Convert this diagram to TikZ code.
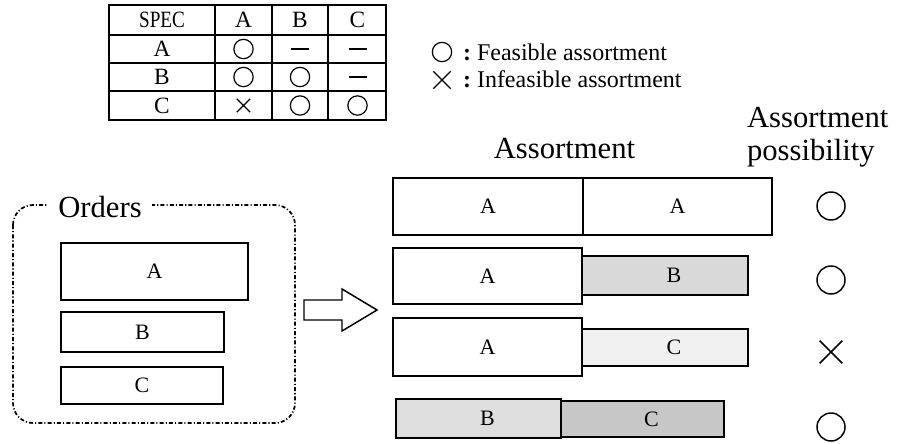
\documentclass[tikz,border=0pt]{standalone}
\usepackage{fontspec}
\usepackage{graphicx}
\setmainfont{Liberation Serif}
\usetikzlibrary{shapes.misc}

\begin{document}
\begin{tikzpicture}[x=0.75pt,y=-0.75pt,
  every node/.style={inner sep=0pt, outer sep=0pt},
  sz/.style n args={2}{minimum width={#1*0.75pt}, minimum height={#2*0.75pt}},
  bar/.style={draw, line width=1.4pt, font=\fontsize{16.5}{18}\selectfont},
  barlabel/.style={font=\fontsize{16.5}{18}\selectfont, xshift=6.75pt},
  headfont/.style={font=\fontsize{23}{26}\selectfont},
  tabfont/.style={font=\fontsize{17.5}{19}\selectfont},
  legfont/.style={font=\fontsize{18}{20}\selectfont},
  okbig/.style={circle, draw, line width=1.1pt, minimum size=21pt},
  ngbig/.style={cross out, draw, line width=1.2pt, minimum size=17pt},
  oksmall/.style={circle, draw, line width=0.9pt, minimum size=14.5pt},
  ngsmall/.style={cross out, draw, line width=0.9pt, minimum size=10pt},
  nglegend/.style={cross out, draw, line width=1pt, minimum size=13pt},
  nonemark/.style={fill=black, minimum width=13.5pt, minimum height=0.8pt},
  groupline/.style={line width=1.3pt, rounded corners=15pt,
    dash pattern=on 3pt off 1.6pt on 0.8pt off 1.6pt}
]
\useasboundingbox (0,0) rectangle (898,443);

% ---------- compatibility table ----------
\draw[line width=2pt] (109,5) rectangle (386,120);
\draw[line width=1.6pt] (109,35) -- (386,35);
\draw[line width=1pt] (109,63) -- (386,63) (109,91) -- (386,91);
\draw[line width=1pt] (215,5) -- (215,120) (272,5) -- (272,120) (328,5) -- (328,120);

\node[tabfont] (h0) at (162,20) {\scalebox{0.82}[1]{SPEC}};
\node[tabfont] (hA) at (243.5,20) {A};
\node[tabfont] (hB) at (300,20) {B};
\node[tabfont] (hC) at (357.5,20) {C};
\node[tabfont] (rA) at (162,49) {A};
\node[tabfont] (rB) at (162,77) {B};
\node[tabfont] (rC) at (162,105.5) {C};

\node[oksmall] (tAA) at (243.5,49) {};
\node[nonemark] (tAB) at (300,49) {};
\node[nonemark] (tAC) at (357.5,49) {};
\node[oksmall] (tBA) at (243.5,77) {};
\node[oksmall] (tBB) at (300,77) {};
\node[nonemark] (tBC) at (357.5,77) {};
\node[ngsmall] (tCA) at (243.5,105.5) {};
\node[oksmall] (tCB) at (300,105.5) {};
\node[oksmall] (tCC) at (357.5,105.5) {};

% ---------- legend ----------
\node[oksmall] (lg1) at (442,52) {};
\node[nglegend] (lg2) at (442,80) {};
\node[legfont, anchor=base] (lc1) at (467,60) {\textbf{:}};
\node[legfont, anchor=base] (lc2) at (467,87) {\textbf{:}};
\node[legfont, anchor=base west] (lt1) at (477,60) {Feasible assortment};
\node[legfont, anchor=base west] (lt2) at (477,87) {Infeasible assortment};

% ---------- orders ----------
\draw[groupline] (13,205) rectangle (295,423);
\node[headfont, anchor=base, fill=white, inner xsep=8pt, inner ysep=2pt] (orders) at (100,217) {Orders};
\node[bar, sz={187}{57}] (oA) at (154.5,271.5) {A};
\node[bar, sz={163}{40}] (oB) at (142.5,332) {B};
\node[bar, sz={162}{37}] (oC) at (142,385.5) {C};

% ---------- block arrow ----------
\draw[line width=1.1pt, fill=white, line join=miter]
  (304,300) -- (342,300) -- (342,289) -- (377,310) -- (342,331) -- (342,320) -- (304,320) -- cycle;

% ---------- headers ----------
\node[headfont, anchor=base] (hdAss) at (564.5,158) {Assortment};
\node[headfont, anchor=base west] (hdPos1) at (747,127) {Assortment};
\node[headfont, anchor=base west] (hdPos2) at (747,160) {possibility};

% ---------- assortments ----------
\node[bar, sz={190}{57}] (r1a) at (488,206.5) {A};
\node[bar, sz={189}{57}] (r1b) at (677.5,206.5) {A};

\node[bar, sz={189}{56}] (r2a) at (487.5,276) {A};
\node[bar, fill=black!15, sz={166}{39}, label={[barlabel]center:B}] (r2b) at (665,275.5) {};

\node[bar, sz={189}{58}] (r3a) at (487.5,347) {A};
\node[bar, fill=black!6, sz={166}{37}, label={[barlabel]center:C}] (r3c) at (665,347.5) {};

\node[bar, fill=black!13, sz={165}{39}, label={[barlabel]center:B}] (r4b) at (478.5,418.5) {};
\node[bar, fill=black!22, sz={163}{36}, label={[barlabel]center:C}] (r4c) at (642.5,419) {};

% ---------- possibility marks ----------
\node[okbig] (p1) at (831,206) {};
\node[okbig] (p2) at (831,280) {};
\node[ngbig] (p3) at (831,352) {};
\node[okbig] (p4) at (831,427) {};
\end{tikzpicture}
\end{document}
